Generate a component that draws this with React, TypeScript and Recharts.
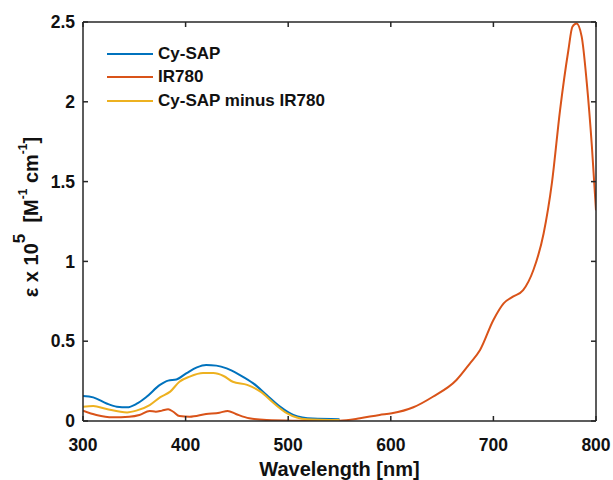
import React from "react";
import { LineChart, Line, XAxis, YAxis, Legend } from "recharts";

// wavelengths [nm] and extinction (x 10^5 M^-1 cm^-1)
const cySapWl = [300, 310, 323, 333, 343, 352, 362, 375, 383, 391, 401, 411, 420, 430, 440, 453, 466, 479, 492, 505, 524, 550];
const cySapVal = [0.157, 0.148, 0.11, 0.09, 0.086, 0.107, 0.152, 0.226, 0.253, 0.26, 0.3, 0.336, 0.351, 0.347, 0.33, 0.288, 0.236, 0.163, 0.09, 0.038, 0.015, 0.011];

const ir780Wl = [300, 313, 329, 345, 355, 365, 371, 377, 383, 388, 394, 404, 420, 433, 441, 449, 462, 479, 505, 530, 550, 570, 589, 601, 622, 641, 664, 677, 687, 700, 710, 719, 729, 739, 749, 757, 765, 773, 777, 781, 786, 791, 796, 800];
const ir780Val = [0.065, 0.038, 0.023, 0.027, 0.038, 0.063, 0.058, 0.065, 0.073, 0.058, 0.031, 0.027, 0.044, 0.052, 0.063, 0.044, 0.017, 0.006, 0.002, 0.001, 0.002, 0.017, 0.038, 0.048, 0.086, 0.152, 0.257, 0.36, 0.445, 0.633, 0.737, 0.779, 0.82, 0.946, 1.176, 1.49, 1.95, 2.32, 2.47, 2.49, 2.41, 2.12, 1.72, 1.32];

const diffWl = [300, 310, 323, 343, 352, 365, 375, 385, 394, 404, 417, 427, 437, 446, 460, 473, 486, 499, 518, 550];
const diffVal = [0.09, 0.094, 0.075, 0.054, 0.065, 0.1, 0.148, 0.184, 0.246, 0.278, 0.3, 0.3, 0.282, 0.246, 0.226, 0.184, 0.111, 0.048, 0.011, 0.006];

const xTicks = [300, 400, 500, 600, 700, 800];
const yTicks = [0, 0.5, 1, 1.5, 2, 2.5];

const toPoints = (wl: number[], v: number[]) => wl.map((x, i) => ({ x, y: v[i] }));

// IR780 sits on the top/right axes (same domains) so those box axes get drawn
const series = [
  { name: "Cy-SAP", color: "#0072BD", data: toPoints(cySapWl, cySapVal), xId: 0, yId: 0 },
  { name: "IR780", color: "#D95319", data: toPoints(ir780Wl, ir780Val), xId: "top", yId: "right" },
  { name: "Cy-SAP minus IR780", color: "#EDB120", data: toPoints(diffWl, diffVal), xId: 0, yId: 0 },
];

const FONT = "'Liberation Sans', Arial, sans-serif";
const INK = "#262626";
const tickStyle = { fontSize: 17.5, fontWeight: 700, fill: "#111", fontFamily: FONT };
const frame = { stroke: INK, strokeWidth: 1.5 };
const noTick = () => <g />;

function YLabel() {
  const cx = 31;
  const cy = 217;
  return (
    <text
      x={cx}
      y={cy}
      transform={`rotate(-90, ${cx}, ${cy})`}
      textAnchor="middle"
      dominantBaseline="central"
      style={{ whiteSpace: "pre" }}
      fontFamily={FONT}
      fontWeight={700}
      fontSize={20}
      fill="#111"
    >
      ε x 10
      <tspan dy={-12} fontSize={17}>5</tspan>
      <tspan dy={12}>{"  [M"}</tspan>
      <tspan dy={-8} fontSize={12}>-1</tspan>
      <tspan dy={8}> cm</tspan>
      <tspan dy={-8} fontSize={12}>-1</tspan>
      <tspan dy={8}>]</tspan>
    </text>
  );
}

function LegendBox() {
  return (
    <div style={{ fontFamily: FONT, fontWeight: 700, fontSize: 17, color: "#111" }}>
      {series.map((s) => (
        <div key={s.name} style={{ display: "flex", alignItems: "center", height: 23.5 }}>
          <svg width={46} height={4} style={{ marginRight: 5 }}>
            <line x1={0} y1={2} x2={46} y2={2} stroke={s.color} strokeWidth={2} />
          </svg>
          <span>{s.name}</span>
        </div>
      ))}
    </div>
  );
}

export default function App() {
  return (
    <div style={{ position: "absolute", left: 0, top: 0, background: "#fff" }}>
      <LineChart width={613} height={480} margin={{ top: 21, right: 16, left: 0, bottom: 0 }}>
        <XAxis
          dataKey="x"
          type="number"
          domain={[300, 800]}
          ticks={xTicks}
          allowDataOverflow
          height={59}
          tickSize={-5}
          tickMargin={23}
          tick={tickStyle}
          axisLine={frame}
          tickLine={frame}
          label={{ value: "Wavelength [nm]", position: "insideBottom", offset: 4, style: { ...tickStyle, fontSize: 20 } }}
        />
        <XAxis
          xAxisId="top"
          orientation="top"
          dataKey="x"
          type="number"
          domain={[300, 800]}
          ticks={xTicks}
          allowDataOverflow
          height={1}
          tickSize={-5}
          tick={noTick}
          axisLine={frame}
          tickLine={frame}
        />
        <YAxis
          dataKey="y"
          type="number"
          domain={[0, 2.5]}
          ticks={yTicks}
          allowDataOverflow
          width={83}
          tickSize={-5}
          tickMargin={13}
          tick={tickStyle}
          axisLine={frame}
          tickLine={frame}
          label={{ content: YLabel }}
        />
        <YAxis
          yAxisId="right"
          orientation="right"
          dataKey="y"
          type="number"
          domain={[0, 2.5]}
          ticks={yTicks}
          allowDataOverflow
          width={1}
          tickSize={-5}
          tick={noTick}
          axisLine={frame}
          tickLine={frame}
        />
        <Legend
          layout="vertical"
          verticalAlign="middle"
          align="center"
          content={<LegendBox />}
          wrapperStyle={{ left: 107, top: 42, width: "auto" }}
        />
        {series.map((s) => (
          <Line
            key={s.name}
            data={s.data}
            xAxisId={s.xId}
            yAxisId={s.yId}
            dataKey="y"
            name={s.name}
            type="monotone"
            stroke={s.color}
            strokeWidth={2}
            dot={false}
            isAnimationActive={false}
          />
        ))}
      </LineChart>
    </div>
  );
}
